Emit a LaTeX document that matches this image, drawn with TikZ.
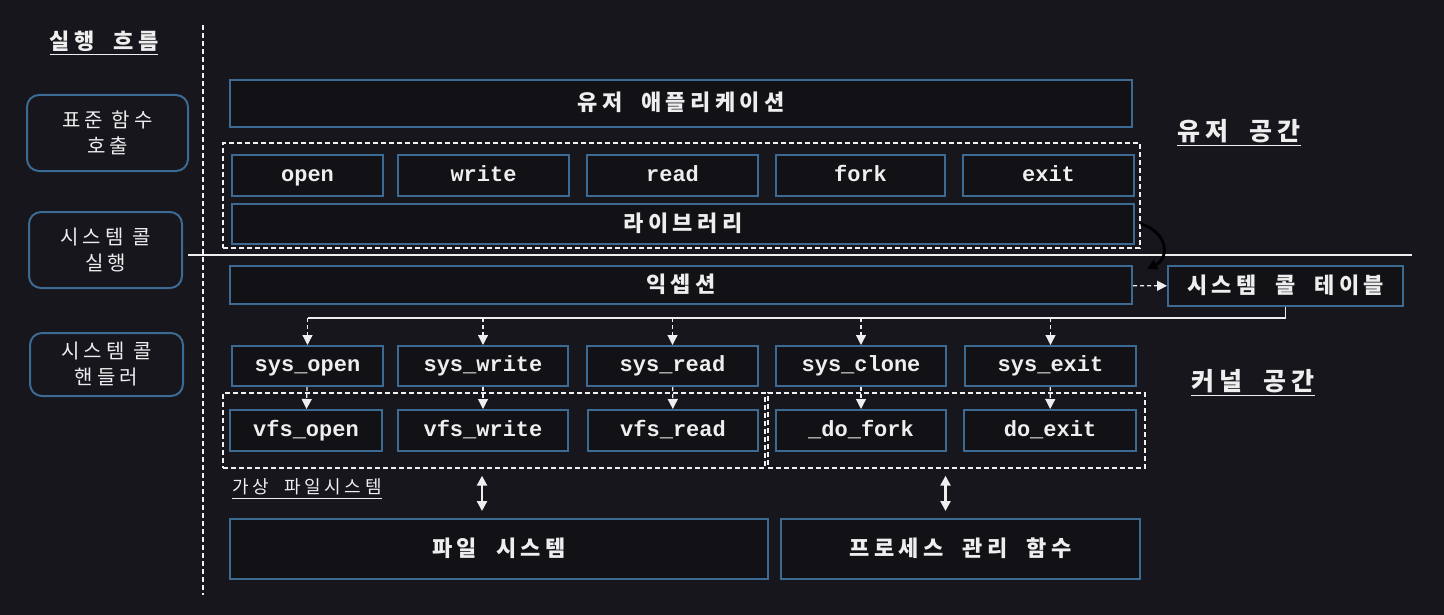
\documentclass[tikz,border=0pt]{standalone}
\usepackage{fontspec}
\setmainfont{Noto Sans CJK KR}
\newfontfamily\monofont{Liberation Mono}
\usepackage{xcolor}
\definecolor{kbg}{HTML}{16161C}
\definecolor{kbox}{HTML}{111116}
\definecolor{kline}{HTML}{3D6A92}
\definecolor{ktext}{HTML}{EEEEEE}
\usetikzlibrary{arrows.meta,positioning,fit,calc}
\newcommand{\spaced}{\addfontfeature{LetterSpace=20}}

\begin{document}
\begin{tikzpicture}[x=0.5pt,y=-0.5pt,>={Triangle[length=5pt,width=5pt]}]
\tikzset{
 b/.style={draw=kline,line width=1pt,fill=kbox,text=ktext,inner sep=0pt,text height=8.5pt,text depth=1.5pt,font=\bfseries\fontsize{11}{12}\selectfont\spaced},
 f/.style={b,text height=7.5pt,text depth=2pt,font=\monofont\bfseries\fontsize{11}{12}\selectfont},
 lb/.style={draw=kline,line width=1pt,rounded corners=6pt,text=ktext,align=center,minimum width=77pt,font=\fontsize{10}{13}\selectfont\spaced},
 grp/.style={draw=ktext!85,dashed,dash pattern=on 2.5pt off 1.5pt,line width=0.7pt,inner sep=0pt},
 da/.style={->,ktext,dashed,dash pattern=on 2pt off 1.5pt,line width=0.6pt},
 hd/.style={text=ktext,font=\bfseries\fontsize{12.5}{14}\selectfont\spaced}
}
\useasboundingbox (0,0) rectangle (1444,615);
\fill[kbg] (0,0) rectangle (1444,615);

% left column
\node[hd,font=\bfseries\fontsize{11}{12}\selectfont\spaced] (flow) at (104,43) {\underline{실행\ \ 흐름}};
\node[lb,minimum width=80.5pt,minimum height=38pt] (call) at (107.5,133) {표준 함수\\호출};
\node[lb,minimum width=76.5pt,minimum height=38pt] (run) at (105.5,250) {시스템 콜\\실행};
\node[lb,minimum width=76.5pt,minimum height=31.5pt] (hdl) at (106.5,364.5) {시스템 콜\\핸들러};
\draw[ktext!80,dashed,dash pattern=on 2.5pt off 1.5pt,line width=0.7pt] (203,25) -- (203,595);
\draw[ktext,line width=1.1pt] (188,255) -- (1412,255);

% user space
\node[b,minimum width=451pt,minimum height=23.5pt] (app) at (681,103.5) {유저\ \ 애플리케이션};
\node[f,minimum width=75.5pt,minimum height=20.5pt] (open) at (307.5,175.5) {open};
\node[f,minimum width=85.5pt,minimum height=20.5pt] (write) at (483.5,175.5) {write};
\node[f,minimum width=85.5pt,minimum height=20.5pt] (read) at (672.5,175.5) {read};
\node[f,minimum width=84.5pt,minimum height=20.5pt] (fork) at (860.5,175.5) {fork};
\node[f,minimum width=85.5pt,minimum height=20.5pt] (exit) at (1048.5,175.5) {exit};
\node[b,minimum width=451pt,minimum height=20pt] (lib) at (683,224) {라이브러리};
\node[grp,fit={(223,143) (1140,248)}] (libgrp) {};
\node[hd] (user) at (1239,133) {\underline{유저\ \ 공간}};

% kernel space
\node[b,minimum width=451pt,minimum height=19pt] (exc) at (681,285) {익셉션};
\node[b,minimum width=117.5pt,minimum height=20pt] (tbl) at (1285.5,286) {시스템\ \ 콜\ \ 테이블};
\coordinate (trap) at (1147,269);
\draw[->,black,line width=1.4pt] (libgrp.east |- lib) .. controls (1168,232) and (1170,258) .. (trap);
\draw[da] (exc) -- (tbl);

\node[f,minimum width=75.5pt,minimum height=20pt] (sopen) at (307.5,366) {sys\_open};
\node[f,minimum width=85pt,minimum height=20pt] (swrite) at (483,366) {sys\_write};
\node[f,minimum width=85.5pt,minimum height=20pt] (sread) at (672.5,366) {sys\_read};
\node[f,minimum width=85pt,minimum height=20pt] (sclone) at (861,366) {sys\_clone};
\node[f,minimum width=85.5pt,minimum height=20pt] (sexit) at (1050.5,366) {sys\_exit};

\node[f,minimum width=76pt,minimum height=20.5pt] (vopen) at (306,430.5) {vfs\_open};
\node[f,minimum width=85pt,minimum height=20.5pt] (vwrite) at (483,430.5) {vfs\_write};
\node[f,minimum width=85pt,minimum height=20.5pt] (vread) at (673,430.5) {vfs\_read};
\node[f,minimum width=85pt,minimum height=20.5pt] (dfork) at (861,430.5) {\_do\_fork};
\node[f,minimum width=86pt,minimum height=20.5pt] (dexit) at (1050,430.5) {do\_exit};
\node[grp,fit={(223,393) (765,468)}] (vfsgrp) {};
\node[grp,fit={(768,393) (1145,468)}] (procgrp) {};
\node[text=ktext,font=\fontsize{9}{11}\selectfont\spaced] (vfslbl) at (307,489) {\underline{가상\ \ 파일시스템}};
\node[hd] (kern) at (1253,383) {\underline{커널\ \ 공간}};

\coordinate (bus) at (0,318);
\draw[ktext,line width=0.8pt] (tbl.south) |- (bus -| sopen);
\foreach \s in {sopen,swrite,sread,sclone,sexit}{\draw[da] (bus -| \s) -- (\s.north);}
\foreach \i/\j in {sopen/vopen,swrite/vwrite,sread/vread,sclone/dfork,sexit/dexit}{\draw[da] (\i) -- (\j);}

\node[b,minimum width=269pt,minimum height=30pt] (fs) at (499,549) {파일\ \ 시스템};
\node[b,minimum width=179.5pt,minimum height=30pt] (pm) at (960.5,549) {프로세스\ \ 관리\ \ 함수};
\draw[<->,ktext,line width=1.2pt,shorten <=3.5pt,shorten >=3.5pt] ([xshift=-6pt]vfsgrp.south) -- ([xshift=-6pt]vfsgrp.south |- fs.north);
\draw[<->,ktext,line width=1.2pt,shorten <=3.5pt,shorten >=3.5pt] ([xshift=-5.5pt]procgrp.south) -- ([xshift=-5.5pt]procgrp.south |- pm.north);
\end{tikzpicture}
\end{document}
